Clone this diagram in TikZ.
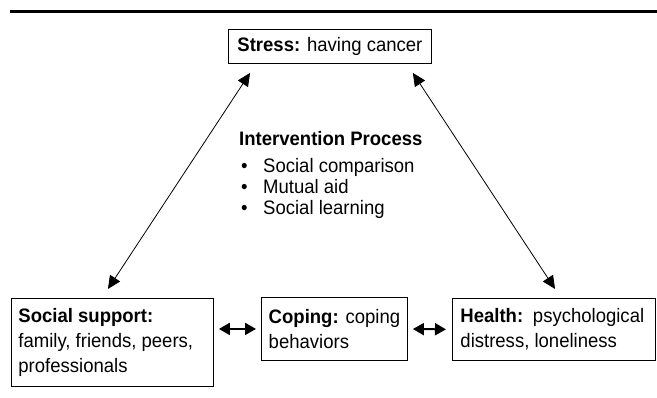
\documentclass[tikz,border=0pt]{standalone}
\usepackage{fontspec}
\setmainfont[FakeStretch=0.95]{Liberation Sans}
\usetikzlibrary{arrows.meta}

\begin{document}
\begin{tikzpicture}[x=1pt, y=-1pt, font=\fontsize{19.5}{25}\selectfont,
  box/.style={draw, line width=.9pt, inner xsep=5pt, inner ysep=4pt, anchor=north west, align=left, execute at begin node={\spaceskip=0pt}},
  link/.style={line width=.8pt, {Triangle[length=13pt,width=12pt]}-{Triangle[length=13pt,width=12pt]}, shorten <=10.8pt, shorten >=10.8pt},
  swap/.style={line width=2pt, {Triangle[length=11pt,width=12pt]}-{Triangle[length=11pt,width=12pt]}}]
  \useasboundingbox (0,0) rectangle (657,398);
  \path[draw, line width=3pt] (10,11.7) -- (657,11.7);
  \node[box, minimum width=203pt, minimum height=34pt] (stress) at (228,29) {\textbf{Stress:} having cancer};
  \node[box, inner xsep=7pt, text width=188pt, minimum height=88pt] (social) at (11,298) {\textbf{Social support:}\\ family, friends, peers,\\ professionals};
  \node[box, minimum width=146pt, minimum height=63pt] (coping) at (261,297) {\textbf{Coping:} coping\\ behaviors};
  \node[box, inner xsep=8pt, text width=187pt, minimum height=62pt] (health) at (452,298) {\textbf{Health:} psychological\\ distress, loneliness};
  \node[anchor=north west, inner sep=0pt, align=left, font=\fontsize{19.5}{21}\selectfont] (process) at (239,131)
    {\textbf{Intervention Process}\\[6pt]
     \hspace*{2pt}\makebox[22pt][l]{\textbullet}Social comparison\\
     \hspace*{2pt}\makebox[22pt][l]{\textbullet}Mutual aid\\
     \hspace*{2pt}\makebox[22pt][l]{\textbullet}Social learning};
  \draw[link] ([xshift=28pt]stress.south west) -- ([xshift=91pt]social.north west);
  \draw[link] ([xshift=-25pt]stress.south east) -- ([xshift=109pt]health.north west);
  \draw[swap, shorten <=5pt, shorten >=5pt] (social.east |- coping.west) -- (coping.west);
  \draw[swap, shorten <=5pt, shorten >=6pt] (coping.east) -- (health.west);
\end{tikzpicture}
\end{document}
